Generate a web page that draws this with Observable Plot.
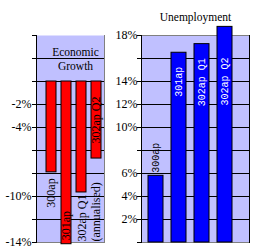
<!DOCTYPE html>
<html>
<head>
<meta charset="utf-8">
<script src="https://cdn.jsdelivr.net/npm/d3@7"></script>
<script src="https://cdn.jsdelivr.net/npm/@observablehq/plot@0.6"></script>
<style>
  html, body { margin: 0; padding: 0; background: #ffffff; }
  #wrap { display: flex; flex-direction: row; width: 260px; height: 250px; }
  #wrap svg { display: block; background: transparent; }
</style>
</head>
<body>
<div id="wrap"></div>
<script>
// ---- data ----
const categories = ["300ap", "301ap", "302ap Q1", "302ap Q2"];
const growthValues = [-7.9, -14.15, -9.65, -6.7];
const growthLabels = ["300ap", "301ap", "302ap Q1\n(annualised)", "302ap Q2"];
const unemploymentValues = [5.8, 16.5, 17.25, 18.75];
const unemploymentLabels = ["300ap", "301ap", "302ap Q1", "302ap Q2"];
const growthTicks = [4, 2, 0, -2, -4, -6, -8, -10, -12, -14];
const growthTickLabels = [-2, -4, -10, -14];
const unemploymentTicks = [18, 16, 14, 12, 10, 8, 6, 4, 2, 0];
const unemploymentTickLabels = [18, 14, 12, 10, 6, 4, 2];
const growthTitle = "Economic\nGrowth";
const unemploymentTitle = "Unemployment";

const growth = categories.map((c, i) => ({cat: c, v: growthValues[i], label: growthLabels[i], i}));
const unemp = categories.map((c, i) => ({cat: c, v: unemploymentValues[i], label: unemploymentLabels[i], i}));

const bg = "#C0C0FF";
const serif = "'Liberation Serif', 'Times New Roman', serif";
const mono = "'Liberation Mono', 'Courier New', monospace";

const gMin = d3.min(growthTicks), gMax = d3.max(growthTicks);
const uMin = d3.min(unemploymentTicks), uMax = d3.max(unemploymentTicks);

const left = Plot.plot({
  width: 108, height: 250,
  marginLeft: 36, marginRight: 4, marginTop: 35, marginBottom: 8,
  style: {background: "transparent"},
  x: {type: "band", domain: categories, range: [45.5, 100.5], paddingInner: 1/3, paddingOuter: 0, axis: null},
  y: {domain: [gMin, gMax]},
  marks: [
    Plot.frame({fill: bg, stroke: null}),
    Plot.ruleY(growthTicks.filter(t => t !== gMin && t !== gMax), {stroke: "black", strokeWidth: 1}),
    Plot.frame({anchor: "right", stroke: "#808080"}),
    Plot.frame({anchor: "bottom", stroke: "#808080"}),
    Plot.frame({anchor: "left", stroke: "black"}),
    Plot.axisY({ticks: growthTicks, tickSize: 4, tickPadding: 1,
      tickFormat: d => growthTickLabels.includes(d) ? d + "%" : "",
      fontFamily: serif, fontSize: 12, color: "black", label: null}),
    Plot.barY(growth, {x: "cat", y: "v", fill: "#FF0000", stroke: "black", strokeWidth: 1}),
    Plot.text([growthTitle], {frameAnchor: "top", dx: 5, dy: 11, lineAnchor: "top", lineHeight: 1.17,
      fontFamily: serif, fontSize: 11.5, fill: "black"}),
    // bar label placements
    Plot.text(growth.filter(d => d.i === 0), {x: "cat", y: "v", text: "label", rotate: -90, textAnchor: "end", dy: 6,
      fontFamily: serif, fontSize: 12, fill: "black"}),
    Plot.text(growth.filter(d => d.i === 1), {x: "cat", y: "v", text: "label", rotate: -90, textAnchor: "start", dy: -4,
      fontFamily: serif, fontSize: 12, fill: "black"}),
    Plot.text(growth.filter(d => d.i === 2), {x: "cat", y: () => gMin, text: "label", rotate: -90, textAnchor: "start", dy: -1,
      dx: 7.2, lineHeight: 1.2, fontFamily: serif, fontSize: 12, fill: "black"}),
    Plot.text(growth.filter(d => d.i === 3), {x: "cat", y: d => d.v / 2, text: "label", rotate: -90, textAnchor: "middle",
      fontFamily: serif, fontSize: 12, fill: "black"})
  ]
});

const right = Plot.plot({
  width: 152, height: 250,
  marginLeft: 33, marginRight: 11, marginTop: 35, marginBottom: 8,
  style: {background: "transparent"},
  x: {type: "band", domain: categories, range: [39.3, 124.2], paddingInner: 0.357, paddingOuter: 0, axis: null},
  y: {domain: [uMin, uMax]},
  marks: [
    Plot.frame({fill: bg, stroke: null}),
    Plot.ruleY(unemploymentTicks.filter(t => t !== uMin && t !== uMax), {stroke: "black", strokeWidth: 1}),
    Plot.frame({anchor: "top", stroke: "#808080"}),
    Plot.frame({anchor: "bottom", stroke: "#808080"}),
    Plot.frame({anchor: "right", stroke: "black"}),
    Plot.frame({anchor: "left", stroke: "black"}),
    Plot.axisY({ticks: unemploymentTicks, tickSize: 4, tickPadding: 0,
      tickFormat: d => unemploymentTickLabels.includes(d) ? d + "%" : "",
      fontFamily: serif, fontSize: 12, color: "black", label: null}),
    Plot.barY(unemp, {x: "cat", y: "v", fill: "#0000FF", stroke: "black", strokeWidth: 1}),
    Plot.text([unemploymentTitle], {frameAnchor: "top", dy: -18, lineAnchor: "middle",
      fontFamily: serif, fontSize: 11.5, fill: "black"}),
    Plot.text(unemp.filter(d => d.i === 0), {x: "cat", y: "v", text: "label", rotate: -90, textAnchor: "start", dy: -3,
      fontFamily: mono, fontSize: 10, fill: "black"}),
    Plot.text(unemp.filter(d => d.i === 1 || d.i === 2), {x: "cat", y: "v", text: "label", rotate: -90, textAnchor: "end", dy: 14,
      fontFamily: mono, fontSize: 10, fill: "white"}),
    Plot.text(unemp.filter(d => d.i === 3), {x: "cat", y: () => uMax, text: "label", rotate: -90, textAnchor: "end", dy: 22,
      fontFamily: mono, fontSize: 10, fill: "white"})
  ]
});

document.getElementById("wrap").append(left, right);
</script>
</body>
</html>
